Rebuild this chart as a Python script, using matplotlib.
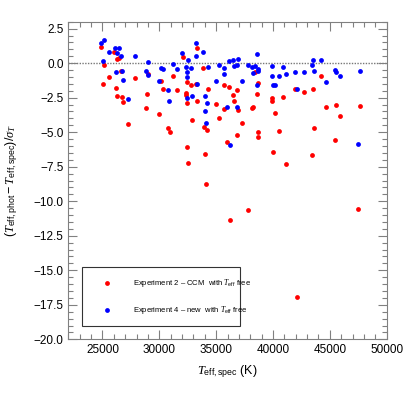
import matplotlib
matplotlib.use("Agg")
import matplotlib.pyplot as plt
from matplotlib.ticker import MultipleLocator

plt.rcParams['font.family'] = ['Liberation Sans', 'DejaVu Sans']
plt.rcParams['mathtext.fontset'] = 'custom'
plt.rcParams['mathtext.rm'] = 'Liberation Sans'
plt.rcParams['mathtext.it'] = 'Liberation Serif:italic'
plt.rcParams['mathtext.bf'] = 'Liberation Sans:bold'

# Experiment 2 - CCM with Teff free (red)
teff_red = [24883, 25088, 25176, 25557, 26027, 26232, 26320, 26438, 26262, 26643,
            26760, 26819, 27289, 27846, 28814, 28932, 29020, 29929, 30135, 30311,
            30751, 30897, 31191, 31543, 32042, 32335, 32364, 32423, 32452, 32423,
            32482, 32746, 32834, 33274, 33245, 33274, 33861, 33949, 33978, 34066,
            34213, 34242, 34976, 35210, 35650, 35680, 35914, 36149, 36237, 36472,
            36589, 36824, 36912, 36824, 37264, 37763, 38115, 38262, 38409, 38585,
            38643, 38672, 38702, 39875, 39905, 40022, 40198, 40521, 40873, 41166,
            41900, 42105, 42692, 43426, 43514, 43602, 44188, 44628, 45421, 45538,
            45919, 47504, 47621]
dev_red = [1.15, -1.53, -0.10, -1.02, 0.81, -1.77, 0.28, 0.40, -2.39, -0.59,
           -2.44, -2.81, -4.39, -1.09, -3.24, -2.27, -0.76, -3.67, -1.27, -1.88,
           -4.71, -5.02, -0.92, -1.98, 0.45, -2.18, -2.32, -2.92, -1.38, -6.08,
           -7.26, -1.60, -4.15, 1.13, -1.48, -2.73, -0.37, -4.64, -6.59, -8.76,
           -4.83, -1.89, -2.97, -3.99, -3.31, -1.60, -5.72, -1.70, -11.34, -2.32,
           -2.71, -1.98, -3.38, -5.17, -4.32, -10.62, -3.24, -3.19, -0.61, -2.20,
           -5.34, -5.00, -1.45, -2.54, -2.73, -6.42, -3.62, -4.88, -2.42, -7.34,
           -1.84, -16.91, -2.06, -6.66, -1.86, -4.73, -0.90, -3.21, -5.55, -3.00,
           -3.82, -10.55, -3.14]

# Experiment 4 - new with Teff free (blue)
teff_blue = [24912, 25147, 25557, 25088, 26086, 26467, 26320, 26643, 26232, 26731,
             26819, 27289, 27846, 28990, 28814, 28961, 29929, 30135, 30311, 30721,
             30868, 31191, 31543, 32012, 32335, 32423, 32423, 32482, 32394, 32804,
             32834, 33245, 33186, 33274, 33861, 33978, 33978, 34066, 34213, 34242,
             34976, 35210, 35650, 35709, 35944, 36149, 36237, 36501, 36589, 36824,
             36912, 36853, 37264, 37763, 38144, 38262, 38438, 38585, 38643, 38672,
             38555, 39875, 39875, 40022, 40198, 40550, 40873, 41166, 41900, 42105,
             42692, 43426, 43514, 43602, 44188, 44628, 45421, 45538, 45919, 47621,
             47504]
dev_blue = [1.49, 1.66, 0.84, 0.14, 1.13, 1.13, 0.76, 0.50, -0.66, -0.59,
            -1.21, -2.59, 0.50, 0.09, -0.59, -0.88, -1.27, -0.32, -0.42, -1.98,
            -2.73, -0.08, -0.42, 0.76, -0.27, -0.63, -1.02, 0.26, -2.49, -0.32,
            -2.35, 1.44, 0.50, -1.48, 0.81, -2.37, -3.46, -4.32, -2.90, -0.30,
            -1.27, -0.13, -0.32, -0.78, -3.21, 0.14, -5.94, 0.23, -0.22, -0.15,
            0.31, -3.21, -1.27, -0.13, -0.30, -0.71, -0.20, 0.67, -0.42, -0.56,
            -1.57, -0.20, -0.93, -1.57, -1.62, -0.93, -0.25, -0.80, -0.61, -1.89,
            -0.61, -0.10, 0.19, -0.59, 0.19, -1.38, -0.49, -0.63, -0.92, -0.56,
            -5.87]

label_red = r'Experiment 2 – CCM  with $T_{\rm eff}$ free'
label_blue = r'Experiment 4 – new  with $T_{\rm eff}$ free'

fig = plt.figure(figsize=(4.07, 4.07), dpi=100, facecolor='white')
ax = fig.add_axes([0.168, 0.1663, 0.782, 0.7804])

ax.axhline(0.0, color='#777777', lw=1.0, ls=(0, (1, 1)), zorder=1)
ax.scatter(teff_red, dev_red, s=12, color='red', lw=0, label=label_red, zorder=2)
ax.scatter(teff_blue, dev_blue, s=12, color='blue', lw=0, label=label_blue, zorder=3)

ax.set_xlim(22000, 50000)
ax.set_ylim(-20, 3)
ax.xaxis.set_major_locator(MultipleLocator(5000))
ax.xaxis.set_minor_locator(MultipleLocator(1000))
ax.yaxis.set_major_locator(MultipleLocator(2.5))
ax.yaxis.set_minor_locator(MultipleLocator(0.5))
ax.tick_params(which='both', direction='in', top=True, right=True,
               color='#808080', width=0.8, labelsize=8.5)
ax.tick_params(which='major', length=6.5)
ax.tick_params(which='minor', length=3.3)
for sp in ax.spines.values():
    sp.set_color('#808080')
    sp.set_linewidth(0.8)

ax.set_xlabel(r'$T_{\rm eff,spec}$ (K)', fontsize=9)
ax.xaxis.set_label_coords(0.5, -0.075)
ax.set_ylabel(r'$(T_{\rm eff,phot}-T_{\rm eff,spec})/\sigma_T$', fontsize=9)
ax.yaxis.set_label_coords(-0.152, 0.5)

leg = ax.legend(loc='lower left', bbox_to_anchor=(0.042, 0.042, 0.498, 0.178),
                mode='expand', fontsize=5.5,
                scatterpoints=1, handlelength=3.9, handletextpad=1.45,
                borderpad=1.32, labelspacing=1.9, borderaxespad=0,
                fancybox=False, frameon=True)
leg.get_frame().set_edgecolor('black')
leg.get_frame().set_linewidth(0.8)

plt.savefig('out.png', dpi=100)
